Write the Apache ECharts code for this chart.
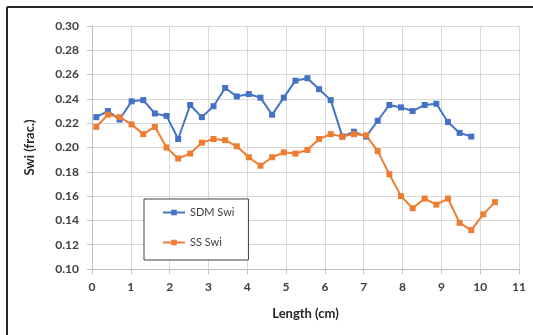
<!DOCTYPE html>
<html>
<head>
<meta charset="utf-8">
<script src="https://cdn.jsdelivr.net/npm/echarts@6/dist/echarts.min.js"></script>
<style>
html,body{margin:0;padding:0;background:#fff;}
#chart{width:533px;height:335px;}
</style>
</head>
<body>
<div id="chart"></div>
<script>
// Length positions (cm)
var lengthCm = [0.11,0.41,0.71,1.02,1.32,1.62,1.92,2.22,2.53,2.83,3.13,3.43,3.73,4.04,4.34,4.64,4.94,5.24,5.55,5.85,6.15,6.45,6.75,7.06,7.36,7.66,7.96,8.26,8.57,8.87,9.17,9.47,9.77,10.08,10.38];
// SDM Swi (33 points)
var sdmSwi = [0.225,0.230,0.223,0.238,0.239,0.228,0.226,0.207,0.235,0.225,0.234,0.249,0.242,0.244,0.241,0.227,0.241,0.255,0.257,0.248,0.239,0.209,0.213,0.209,0.222,0.235,0.233,0.230,0.235,0.236,0.221,0.212,0.209];
// SS Swi (35 points)
var ssSwi = [0.217,0.227,0.225,0.219,0.211,0.217,0.200,0.191,0.195,0.204,0.207,0.206,0.201,0.192,0.185,0.192,0.196,0.195,0.198,0.207,0.211,0.209,0.211,0.210,0.197,0.178,0.160,0.150,0.158,0.153,0.158,0.138,0.132,0.145,0.155];
var seriesNames = ['SDM Swi','SS Swi'];
var xTitle = 'Length (cm)';
var yTitle = 'Swi (frac.)';

function pairs(vals){ return vals.map(function(v,i){ return [lengthCm[i], v]; }); }

var font = 'Lato, "Liberation Sans", sans-serif';
var chart = echarts.init(document.getElementById('chart'), null, {renderer:'canvas'});
chart.setOption({
  animation:false,
  backgroundColor:'#ffffff',
  grid:{left:92, right:14, top:26, bottom:66, containLabel:false},
  xAxis:{
    type:'value', min:0, max:11, interval:1,
    name:xTitle, nameLocation:'middle', nameGap:38,
    nameTextStyle:{fontFamily:font, fontWeight:'bold', fontSize:13, color:'#262626'},
    axisLine:{onZero:false, lineStyle:{color:'#bfbfbf', width:1}},
    axisTick:{show:true, length:5, lineStyle:{color:'#bfbfbf'}},
    axisLabel:{fontFamily:font, fontWeight:'bold', fontSize:12, color:'#404040', margin:12},
    splitLine:{show:true, lineStyle:{color:'#d9d9d9', width:1}}
  },
  yAxis:{
    type:'value', min:0.10, max:0.30, interval:0.02,
    name:yTitle, nameLocation:'middle', nameGap:56, nameRotate:90,
    nameTextStyle:{fontFamily:font, fontWeight:'bold', fontSize:13, color:'#262626'},
    axisLine:{show:true, lineStyle:{color:'#bfbfbf', width:1}},
    axisTick:{show:true, length:5, lineStyle:{color:'#bfbfbf'}},
    axisLabel:{fontFamily:font, fontWeight:'bold', fontSize:12, color:'#404040', margin:13,
      formatter:function(v){ return v.toFixed(2); }},
    splitLine:{show:true, lineStyle:{color:'#d9d9d9', width:1}}
  },
  legend:{
    orient:'vertical', left:144, top:199, width:101,
    padding:[8,14,12,18], itemGap:19, itemWidth:22, itemHeight:7,
    backgroundColor:'#ffffff', borderColor:'#404040', borderWidth:1,
    textStyle:{fontFamily:font, fontSize:11, color:'#404040'},
    data:seriesNames
  },
  graphic:[
    {type:'line', shape:{x1:7, y1:7, x2:533, y2:7}, style:{stroke:'#262626', lineWidth:2}},
    {type:'line', shape:{x1:7, y1:7, x2:7, y2:335}, style:{stroke:'#262626', lineWidth:2}}
  ],
  series:[
    {name:seriesNames[0], type:'line', data:pairs(sdmSwi), symbol:'rect', symbolSize:6,
      itemStyle:{color:'#4472C4'}, lineStyle:{color:'#4472C4', width:2}},
    {name:seriesNames[1], type:'line', data:pairs(ssSwi), symbol:'rect', symbolSize:6,
      itemStyle:{color:'#ED7D31'}, lineStyle:{color:'#ED7D31', width:2}}
  ]
});
</script>
</body>
</html>
